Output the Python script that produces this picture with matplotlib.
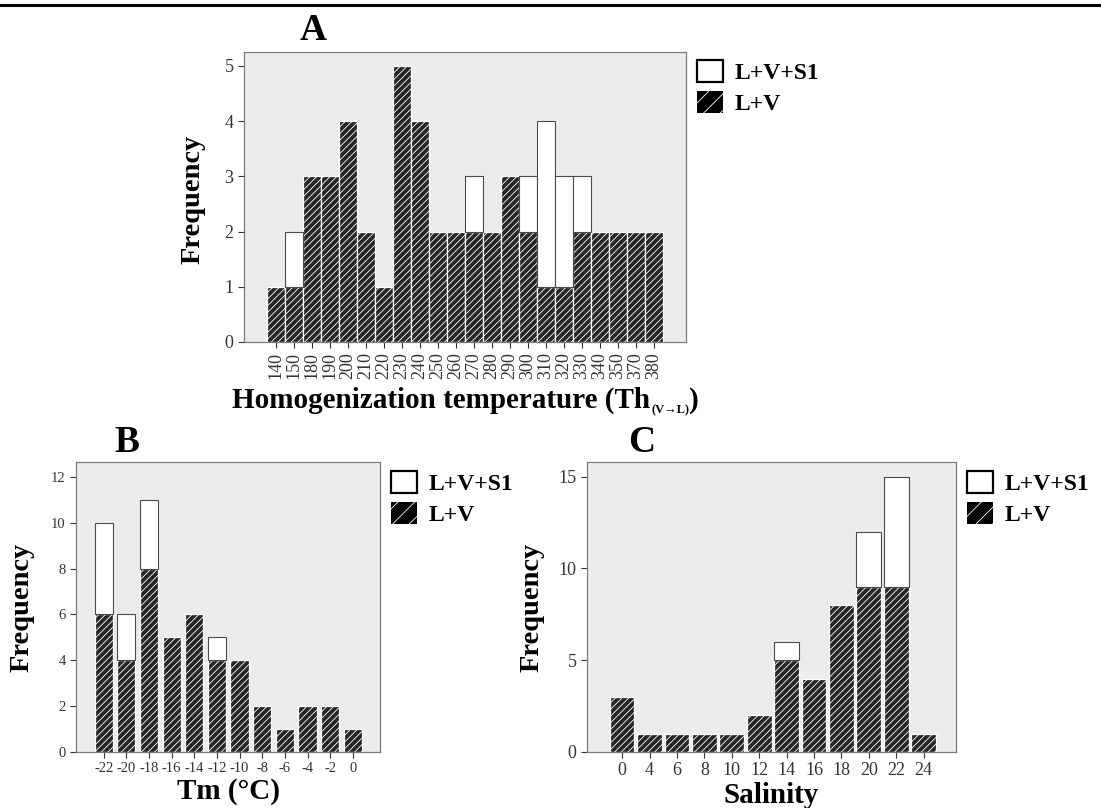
import numpy as np
import matplotlib
matplotlib.use("Agg")
import matplotlib.pyplot as plt
from matplotlib.patches import Patch
from matplotlib.lines import Line2D

plt.rcParams["font.family"] = ["Liberation Serif", "DejaVu Serif"]
plt.rcParams["hatch.linewidth"] = 0.6

# Panel A: homogenization temperature
th_labels = ["140", "150", "180", "190", "200", "210", "220", "230", "240", "250", "260",
             "270", "280", "290", "300", "310", "320", "330", "340", "350", "370", "380"]
th_lv = [1, 1, 3, 3, 4, 2, 1, 5, 4, 2, 2, 2, 2, 3, 2, 1, 1, 2, 2, 2, 2, 2]
th_total = [1, 2, 3, 3, 4, 2, 1, 5, 4, 2, 2, 3, 2, 3, 3, 4, 3, 3, 2, 2, 2, 2]

# Panel B: ice melting temperature
tm_labels = ["-22", "-20", "-18", "-16", "-14", "-12", "-10", "-8", "-6", "-4", "-2", "0"]
tm_lv = [6, 4, 8, 5, 6, 4, 4, 2, 1, 2, 2, 1]
tm_total = [10, 6, 11, 5, 6, 5, 4, 2, 1, 2, 2, 1]

# Panel C: salinity
sal_labels = ["0", "4", "6", "8", "10", "12", "14", "16", "18", "20", "22", "24"]
sal_lv = [3, 1, 1, 1, 1, 2, 5, 4, 8, 9, 9, 1]
sal_total = [3, 1, 1, 1, 1, 2, 6, 4, 8, 12, 15, 1]

DARK = "#262626"
BG = "#ececec"
SPINE = "#7a7a7a"
BOLD = {"fontweight": "bold"}


def stacked(ax, labels, lv, total, width):
    x = np.arange(len(labels))
    lv = np.asarray(lv)
    extra = np.asarray(total) - lv
    ax.bar(x, lv, width=width, color=DARK, edgecolor="white", hatch="/////", linewidth=0.9)
    mask = extra > 0
    ax.bar(x[mask], extra[mask], bottom=lv[mask], width=width, color="white",
           edgecolor="#4a4a4a", linewidth=0.8)
    ax.set_xticks(x)
    ax.set_xticklabels(labels)
    ax.set_facecolor(BG)
    for s in ax.spines.values():
        s.set_color(SPINE)
        s.set_linewidth(0.9)
    ax.tick_params(colors="#333333", length=4, width=0.8)
    return x


def legend(fig, x, y):
    h1 = Patch(facecolor="white", edgecolor="black", linewidth=1.6)
    plt.rcParams["hatch.linewidth"] = 2.2
    h2 = Patch(facecolor="black", edgecolor="white", hatch="//", linewidth=0)
    plt.rcParams["hatch.linewidth"] = 0.6
    fig.legend([h1, h2], ["L+V+S1", "L+V"], loc="upper left", bbox_to_anchor=(x, y),
               frameon=False, prop={"weight": "bold", "size": 17},
               handlelength=1.1, handleheight=1.05, handletextpad=0.5,
               labelspacing=0.3, borderpad=0, borderaxespad=0)


fig = plt.figure(figsize=(11.01, 8.08), dpi=100)
W, H = 1101, 808


def axes_px(l, t, r, b):
    return fig.add_axes([l / W, 1 - b / H, (r - l) / W, (b - t) / H])


def ylabel_px(ax, right_px, left_px, width_px, cy=0.5):
    ax.set_ylabel("Frequency", fontsize=20.5, **BOLD)
    ax.yaxis.set_label_coords((right_px - left_px) / width_px, cy)


# top rule
fig.add_artist(Line2D([0, 1], [1 - 5 / H, 1 - 5 / H], color="black", lw=2.2))

# A
axA = axes_px(244, 52, 686, 342)
x = stacked(axA, th_labels, th_lv, th_total, 1.0)
axA.set_xlim(-1.78, len(x) - 1 + 1.78)
axA.set_ylim(0, 5.25)
axA.set_yticks(range(0, 6))
axA.tick_params(axis="x", labelrotation=90, labelsize=13)
axA.tick_params(axis="y", labelsize=13)
ylabel_px(axA, 206, 244, 442, 0.49)
fig.text(313 / W, 1 - 31 / H, "A", fontsize=27, ha="center", va="center", **BOLD)
legend(fig, 697 / W, 1 - 60 / H)

# A x label with small subscript
t1 = fig.text(232 / W, 1 - 408 / H, "Homogenization temperature (Th", fontsize=21,
              va="baseline", ha="left", **BOLD)
fig.canvas.draw()
r = fig.canvas.get_renderer()
bb = t1.get_window_extent(r)
t2 = fig.text(bb.x1 / W + 1 / W, 1 - 413 / H, "(V\u2192L)", fontsize=9,
              va="baseline", ha="left", **BOLD)
bb2 = t2.get_window_extent(r)
fig.text(bb2.x1 / W, 1 - 408 / H, ")", fontsize=21, va="baseline", ha="left", **BOLD)

# B
axB = axes_px(76, 462, 380, 752)
x = stacked(axB, tm_labels, tm_lv, tm_total, 0.8)
axB.set_xlim(-1.22, len(x) - 1 + 1.2)
axB.set_ylim(0, 12.65)
axB.set_yticks(range(0, 13, 2))
axB.tick_params(axis="both", labelsize=10.5)
ylabel_px(axB, 35, 76, 304, 0.5)
axB.set_xlabel("Tm (°C)", fontsize=21, labelpad=2, **BOLD)
fig.text(127 / W, 1 - 442 / H, "B", fontsize=27, ha="center", va="center", **BOLD)
legend(fig, 391 / W, 1 - 471 / H)

# C
axC = axes_px(587, 462, 956, 752)
x = stacked(axC, sal_labels, sal_lv, sal_total, 0.9)
axC.set_xlim(-1.28, len(x) - 1 + 1.18)
axC.set_ylim(0, 15.8)
axC.set_yticks([0, 5, 10, 15])
axC.tick_params(axis="both", labelsize=13)
ylabel_px(axC, 545, 587, 369, 0.5)
axC.set_xlabel("Salinity", fontsize=21, labelpad=2, **BOLD)
fig.text(642 / W, 1 - 442 / H, "C", fontsize=27, ha="center", va="center", **BOLD)
legend(fig, 967 / W, 1 - 471 / H)

fig.savefig("out.png", dpi=100)
